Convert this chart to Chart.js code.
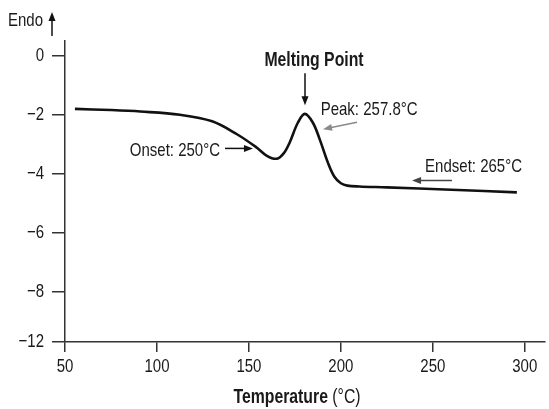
<!DOCTYPE html>
<html>
<head>
<meta charset="utf-8">
<script src="https://cdn.jsdelivr.net/npm/chart.js@4.4.1/dist/chart.umd.min.js"></script>
<style>
  html, body { margin: 0; padding: 0; background: #fff; }
  #wrap { width: 549px; height: 409px; }
</style>
</head>
<body>
<div id="wrap"><canvas id="dsc"></canvas></div>
<script>
// DSC thermogram
const temps = [55.4, 75, 91, 112.5, 130, 143.5, 154, 159.8, 165.2, 169, 172.3, 176.6,
               180.4, 184.8, 188.6, 193, 196.5, 200, 203.5, 210, 225, 260, 295.7];
const heatFlow = [-1.80, -1.84, -1.89, -2.00, -2.22, -2.66, -3.10, -3.39, -3.49, -3.30, -2.92, -2.27,
                  -1.97, -2.27, -2.85, -3.63, -4.10, -4.32, -4.40, -4.43, -4.46, -4.54, -4.63];

const xTicks = [50, 100, 150, 200, 250, 300];
const yTicks = [0, -2, -4, -6, -8];
const yBottom = -9.7;
const yBottomLabel = '−12';   // bottom of the axis carries a -12 label (broken axis)

// annotations in data units
const notes = [
  { text: 'Melting Point', x: 185.4, y: -0.15, align: 'center', bold: true, size: 20 },
  { text: 'Peak: 257.8°C', x: 189.0, y: -1.82, align: 'left', size: 19 },
  { text: 'Onset: 250°C', x: 134.3, y: -3.21, align: 'right', size: 19 },
  { text: 'Endset: 265°C', x: 245.8, y: -3.75, align: 'left', size: 19 },
];
const arrows = [
  { from: [180.5, -0.59], to: [180.5, -1.68], color: '#111' },
  { from: [208.8, -2.25], to: [190.3, -2.49], color: '#8a8a8a' },
  { from: [137.0, -3.14], to: [152.2, -3.14], color: '#111' },
  { from: [260.4, -4.23], to: [238.7, -4.23], color: '#444' },
];

const FONT = '"Liberation Sans", Arial, sans-serif';
const SQUEEZE = 0.79;   // narrow, Myriad-like letterforms
const AXIS = '#333';
const INK = '#1a1a1a';

function fmtY(v) {
  if (v === yBottom) return yBottomLabel;
  return v === 0 ? '0' : '−' + Math.abs(v);
}

// text drawn with a horizontal squeeze
function narrowText(ctx, text, x, y, align, font) {
  ctx.save();
  ctx.font = font;
  ctx.textAlign = 'left';
  ctx.textBaseline = 'middle';
  const w = ctx.measureText(text).width * SQUEEZE;
  let left = x;
  if (align === 'center') left = x - w / 2;
  if (align === 'right') left = x - w;
  ctx.translate(left, y);
  ctx.scale(SQUEEZE, 1);
  ctx.fillText(text, 0, 0);
  ctx.restore();
  return w;
}

function arrowLine(ctx, x1, y1, x2, y2, color) {
  const ang = Math.atan2(y2 - y1, x2 - x1);
  const head = 9, half = 3.5;
  const c = Math.cos(ang), s = Math.sin(ang);
  ctx.save();
  ctx.strokeStyle = color;
  ctx.fillStyle = color;
  ctx.lineWidth = 1.5;
  ctx.beginPath();
  ctx.moveTo(x1, y1);
  ctx.lineTo(x2 - c * head * 0.8, y2 - s * head * 0.8);
  ctx.stroke();
  ctx.beginPath();
  ctx.moveTo(x2, y2);
  ctx.lineTo(x2 - c * head - s * half, y2 - s * head + c * half);
  ctx.lineTo(x2 - c * head + s * half, y2 - s * head - c * half);
  ctx.closePath();
  ctx.fill();
  ctx.restore();
}

const annotate = {
  id: 'annotate',
  afterDraw(chart) {
    const { ctx, scales: { x, y } } = chart;
    ctx.save();
    ctx.fillStyle = INK;

    // tick labels
    xTicks.forEach(v => narrowText(ctx, String(v), x.getPixelForValue(v), 367, 'center', '19px ' + FONT));
    [...yTicks, yBottom].forEach(v =>
      narrowText(ctx, fmtY(v), x.left - 21, y.getPixelForValue(v), 'right', '19px ' + FONT));

    notes.forEach(n => narrowText(ctx, n.text, x.getPixelForValue(n.x), y.getPixelForValue(n.y),
      n.align, (n.bold ? 'bold ' : '') + n.size + 'px ' + FONT));
    arrows.forEach(a => arrowLine(ctx,
      x.getPixelForValue(a.from[0]), y.getPixelForValue(a.from[1]),
      x.getPixelForValue(a.to[0]), y.getPixelForValue(a.to[1]), a.color));

    // "Endo" with up arrow, top left
    narrowText(ctx, 'Endo', 8, 21, 'left', '19px ' + FONT);
    arrowLine(ctx, 52, 36, 52, 12, '#111');

    // axis title: bold word, regular unit
    const t1 = 'Temperature ', t2 = '(°C)';
    ctx.font = 'bold 20px ' + FONT;
    const w1 = ctx.measureText(t1).width * SQUEEZE;
    ctx.font = '20px ' + FONT;
    const w2 = ctx.measureText(t2).width * SQUEEZE;
    const sx = 297 - (w1 + w2) / 2;
    narrowText(ctx, t1, sx, 397, 'left', 'bold 20px ' + FONT);
    narrowText(ctx, t2, sx + w1, 397, 'left', '20px ' + FONT);
    ctx.restore();
  }
};

new Chart(document.getElementById('dsc'), {
  type: 'line',
  data: {
    datasets: [{
      data: temps.map((t, i) => ({ x: t, y: heatFlow[i] })),
      borderColor: '#111',
      borderWidth: 2.6,
      pointRadius: 0,
      fill: false,
      tension: 0.35,
    }]
  },
  options: {
    responsive: true,
    maintainAspectRatio: false,
    animation: false,
    layout: { padding: { top: 41, right: 4, left: 0, bottom: 0 } },
    plugins: { legend: { display: false }, tooltip: { enabled: false } },
    scales: {
      x: {
        type: 'linear',
        min: 50, max: 311,
        afterBuildTicks: s => { s.ticks = xTicks.map(v => ({ value: v })); },
        afterFit: s => { s.height = 67; },
        grid: { drawOnChartArea: false, drawTicks: true, tickLength: 10, color: AXIS, lineWidth: 1.5 },
        border: { display: true, color: AXIS, width: 1.5 },
        ticks: { color: 'transparent', font: { family: FONT, size: 18 }, maxRotation: 0 },
      },
      y: {
        min: yBottom, max: 0.5,
        afterBuildTicks: s => { s.ticks = [...yTicks, yBottom].map(v => ({ value: v })); },
        afterFit: s => { s.width = 65; },
        grid: { drawOnChartArea: false, drawTicks: true, tickLength: 13, color: AXIS, lineWidth: 1.5 },
        border: { display: true, color: AXIS, width: 1.5 },
        ticks: { color: 'transparent', font: { family: FONT, size: 18 }, callback: fmtY },
      }
    }
  },
  plugins: [annotate]
});
</script>
</body>
</html>
